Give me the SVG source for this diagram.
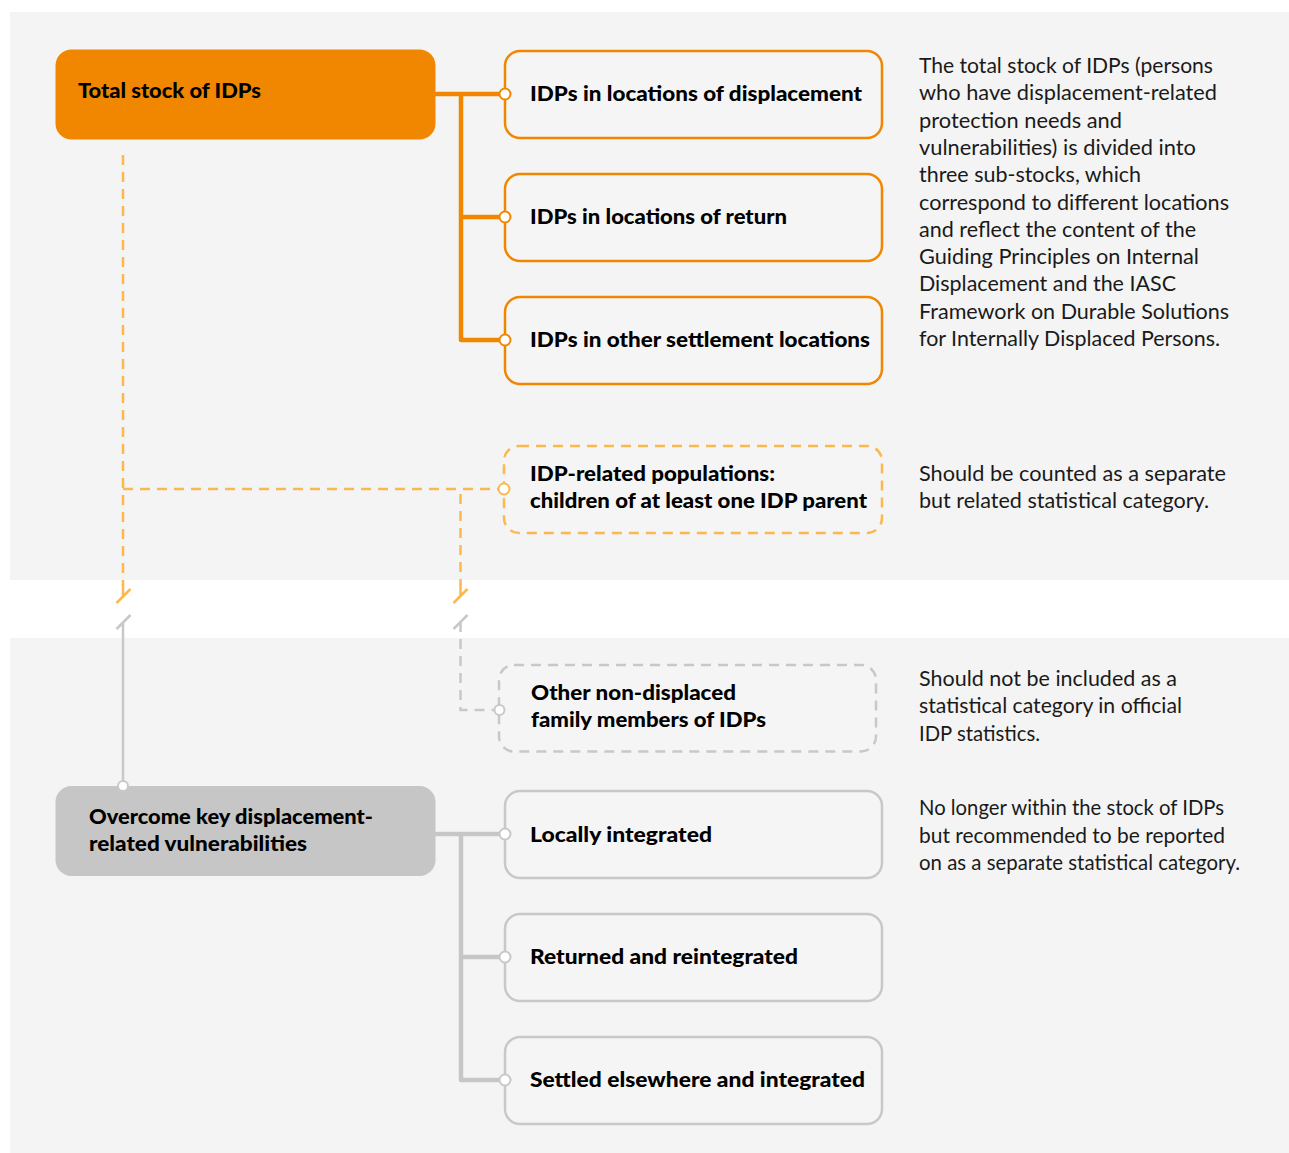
<svg xmlns="http://www.w3.org/2000/svg" width="1289" height="1153" viewBox="0 0 1289 1153">
<style>
.panel{fill:#f4f4f4}
.b{font-family:Lato,"Open Sans","Liberation Sans",sans-serif;font-weight:900;font-size:21px;fill:#000}
.r{font-family:Lato,"Open Sans","Liberation Sans",sans-serif;font-size:21px;fill:#1a1a1a}
.obox{fill:#f5f5f5;stroke:#f18700;stroke-width:2.5}
.gbox{fill:#f5f5f5;stroke:#c8c8c8;stroke-width:2.5}
.odash{fill:#f5f5f5;stroke:#fbb94c;stroke-width:2.5;stroke-dasharray:10 7}
.gdash{fill:#f5f5f5;stroke:#c8c8c8;stroke-width:2.5;stroke-dasharray:10 7}
.oc{fill:none;stroke:#f18700;stroke-width:4.5;stroke-linejoin:round}
.gc{fill:none;stroke:#c6c6c6;stroke-width:4.5;stroke-linejoin:round}
.odl{fill:none;stroke:#fbb94c;stroke-width:2.5;stroke-dasharray:10 7}
.gdl{fill:none;stroke:#c8c8c8;stroke-width:2.5;stroke-dasharray:10 7}
.ol{fill:none;stroke:#fbb94c;stroke-width:2.5}
.gl{fill:none;stroke:#c8c8c8;stroke-width:2.5}
.dot-o{fill:#fff;stroke:#f18700;stroke-width:2}
.dot-od{fill:#fff;stroke:#fbb94c;stroke-width:2}
.dot-g{fill:#fff;stroke:#c8c8c8;stroke-width:2}
</style>
<rect class="panel" x="10" y="12" width="1279" height="568"/>
<rect class="panel" x="10" y="638" width="1279" height="515"/>

<g id="total-stock">
  <rect x="55.5" y="49.5" width="380" height="90" rx="16" fill="#f18700"/>
  <text class="b" x="78" y="97.5" textLength="183" lengthAdjust="spacingAndGlyphs">Total stock of IDPs</text>
</g>
<g id="idps-displacement">
  <rect class="obox" x="505" y="51" width="377" height="87" rx="15"/>
  <text class="b" x="530" y="101" textLength="332" lengthAdjust="spacingAndGlyphs">IDPs in locations of displacement</text>
</g>
<g id="idps-return">
  <rect class="obox" x="505" y="174" width="377" height="87" rx="15"/>
  <text class="b" x="530" y="224" textLength="257" lengthAdjust="spacingAndGlyphs">IDPs in locations of return</text>
</g>
<g id="idps-other">
  <rect class="obox" x="505" y="297" width="377" height="87" rx="15"/>
  <text class="b" x="530" y="347" textLength="340" lengthAdjust="spacingAndGlyphs">IDPs in other settlement locations</text>
</g>
<g id="idp-related">
  <rect class="odash" x="504" y="446" width="378" height="87" rx="15"/>
  <text class="b" x="530" y="481" textLength="245" lengthAdjust="spacingAndGlyphs">IDP-related populations:</text>
  <text class="b" x="530" y="508" textLength="337" lengthAdjust="spacingAndGlyphs">children of at least one IDP parent</text>
</g>
<g id="other-family">
  <rect class="gdash" x="499" y="665" width="377" height="86.5" rx="15"/>
  <text class="b" x="531" y="700" textLength="205" lengthAdjust="spacingAndGlyphs">Other non-displaced</text>
  <text class="b" x="531" y="727" textLength="235" lengthAdjust="spacingAndGlyphs">family members of IDPs</text>
</g>
<g id="overcome">
  <rect x="55.5" y="786" width="380" height="90" rx="16" fill="#c6c6c6"/>
  <text class="b" x="89" y="824" textLength="284" lengthAdjust="spacingAndGlyphs">Overcome key displacement-</text>
  <text class="b" x="89" y="851" textLength="218" lengthAdjust="spacingAndGlyphs">related vulnerabilities</text>
</g>
<g id="locally-integrated">
  <rect class="gbox" x="505" y="791" width="377" height="87" rx="15"/>
  <text class="b" x="530" y="842" textLength="182" lengthAdjust="spacingAndGlyphs">Locally integrated</text>
</g>
<g id="returned">
  <rect class="gbox" x="505" y="914" width="377" height="87" rx="15"/>
  <text class="b" x="530" y="964" textLength="268" lengthAdjust="spacingAndGlyphs">Returned and reintegrated</text>
</g>
<g id="settled">
  <rect class="gbox" x="505" y="1037" width="377" height="87" rx="15"/>
  <text class="b" x="530" y="1087" textLength="335" lengthAdjust="spacingAndGlyphs">Settled elsewhere and integrated</text>
</g>

<g id="connectors">
  <path class="oc" d="M435 94H505M461 94V340H505M461 217H505"/>
  <path class="gc" d="M435 834H505M461 834V1080H505M461 957H505"/>
  <path class="odl" d="M123 155V585"/>
  <path class="ol" d="M123 584V596M116.5 603L130.5 589"/>
  <path class="odl" d="M123 489H499"/>
  <path class="odl" d="M460.5 494V585"/>
  <path class="ol" d="M460.5 584V596M453.5 603L467.5 589"/>
  <path class="gl" d="M116.5 629L130.5 615M123 622V786"/>
  <path class="gl" d="M453.5 629L467.5 615"/>
  <path class="gdl" d="M460.5 622V710H495"/>
  <circle class="dot-o" cx="505" cy="94" r="5.5"/>
  <circle class="dot-o" cx="505" cy="217" r="5.5"/>
  <circle class="dot-o" cx="505" cy="340" r="5.5"/>
  <circle class="dot-od" cx="504" cy="489" r="5.5"/>
  <circle class="dot-g" cx="499.5" cy="710" r="5"/>
  <circle class="dot-g" cx="123" cy="786" r="5"/>
  <circle class="dot-g" cx="505" cy="834" r="5.5"/>
  <circle class="dot-g" cx="505" cy="957" r="5.5"/>
  <circle class="dot-g" cx="505" cy="1080" r="5.5"/>
</g>

<g id="notes">
  <text class="r" x="919" y="73" textLength="294" lengthAdjust="spacingAndGlyphs">The total stock of IDPs (persons</text>
  <text class="r" x="919" y="100.3" textLength="298" lengthAdjust="spacingAndGlyphs">who have displacement-related</text>
  <text class="r" x="919" y="127.6" textLength="203" lengthAdjust="spacingAndGlyphs">protection needs and</text>
  <text class="r" x="919" y="154.9" textLength="277" lengthAdjust="spacingAndGlyphs">vulnerabilities) is divided into</text>
  <text class="r" x="919" y="182.2" textLength="222" lengthAdjust="spacingAndGlyphs">three sub-stocks, which</text>
  <text class="r" x="919" y="209.5" textLength="310" lengthAdjust="spacingAndGlyphs">correspond to different locations</text>
  <text class="r" x="919" y="236.8" textLength="277" lengthAdjust="spacingAndGlyphs">and reflect the content of the</text>
  <text class="r" x="919" y="264.1" textLength="280" lengthAdjust="spacingAndGlyphs">Guiding Principles on Internal</text>
  <text class="r" x="919" y="291.4" textLength="257" lengthAdjust="spacingAndGlyphs">Displacement and the IASC</text>
  <text class="r" x="919" y="318.7" textLength="310" lengthAdjust="spacingAndGlyphs">Framework on Durable Solutions</text>
  <text class="r" x="919" y="346" textLength="301" lengthAdjust="spacingAndGlyphs">for Internally Displaced Persons.</text>
  <text class="r" x="919" y="481" textLength="307" lengthAdjust="spacingAndGlyphs">Should be counted as a separate</text>
  <text class="r" x="919" y="508" textLength="290" lengthAdjust="spacingAndGlyphs">but related statistical category.</text>
  <text class="r" x="919" y="686" textLength="258" lengthAdjust="spacingAndGlyphs">Should not be included as a</text>
  <text class="r" x="919" y="713" textLength="263" lengthAdjust="spacingAndGlyphs">statistical category in official</text>
  <text class="r" x="919" y="741" textLength="121" lengthAdjust="spacingAndGlyphs">IDP statistics.</text>
  <text class="r" x="919" y="815" textLength="305" lengthAdjust="spacingAndGlyphs">No longer within the stock of IDPs</text>
  <text class="r" x="919" y="843" textLength="306" lengthAdjust="spacingAndGlyphs">but recommended to be reported</text>
  <text class="r" x="919" y="870" textLength="321" lengthAdjust="spacingAndGlyphs">on as a separate statistical category.</text>
</g>
</svg>
